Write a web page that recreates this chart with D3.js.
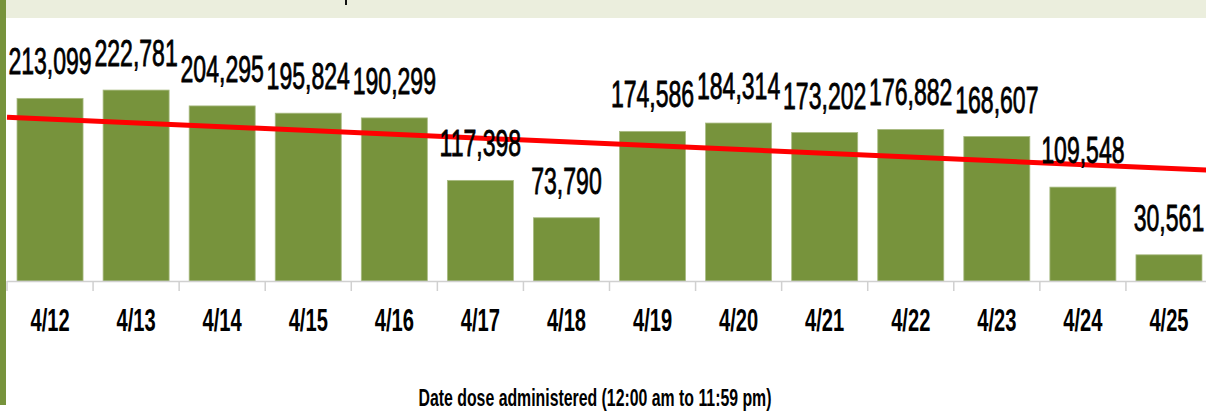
<!DOCTYPE html>
<html>
<head>
<meta charset="utf-8">
<script src="https://cdn.jsdelivr.net/npm/d3@7"></script>
<style>
  html, body { margin: 0; padding: 0; background: #fff; }
  svg { display: block; }
  text { font-family: "Liberation Sans", Arial, sans-serif; fill: #000; }
</style>
</head>
<body>
<svg id="chart"></svg>
<script>
// daily doses administered, 4/12 - 4/25
const dates = ["4/12", "4/13", "4/14", "4/15", "4/16", "4/17", "4/18",
               "4/19", "4/20", "4/21", "4/22", "4/23", "4/24", "4/25"];
const doses = [213099, 222781, 204295, 195824, 190299, 117398, 73790,
               174586, 184314, 173202, 176882, 168607, 109548, 30561];
// linear trendline, value read at first and last date
const trendEnds = [188900, 131300];
const xTitle = "Date dose administered (12:00 am to 11:59 pm)";

const width = 1206, height = 411;
const svg = d3.select("#chart").attr("width", width).attr("height", height);

const x = d3.scaleBand().domain(dates).range([7, 1212])
    .paddingInner(0.233).paddingOuter(0.1165);
const y = d3.scaleLinear().domain([0, 250000]).range([281, 66.75]);
const fmt = d3.format(",");

// cropped frame bits: top band and left accent bar
svg.append("rect").attr("x", 0).attr("y", 0).attr("width", width).attr("height", 18)
    .attr("fill", "#ebeedd");
svg.append("rect").attr("x", 345).attr("y", 0).attr("width", 2).attr("height", 5)
    .attr("fill", "#111");
svg.append("rect").attr("x", 0).attr("y", 0).attr("width", 6).attr("height", 405)
    .attr("fill", "#77933c");

// bars
svg.selectAll(".bar").data(doses).join("rect")
    .attr("class", "bar")
    .attr("x", (d, i) => x(dates[i]))
    .attr("y", d => y(d))
    .attr("width", x.bandwidth())
    .attr("height", d => y(0) - y(d))
    .attr("fill", "#77933c")
    .attr("stroke", "#a9bb83").attr("stroke-width", 0.8);

// axis line + ticks at band edges
const step = x.step();
const edges = dates.map(d => x(d) - step * x.paddingInner() / 2);
edges.push(x.range()[1]);
const axis = svg.append("g").attr("stroke", "#d0d0d0").attr("stroke-width", 1.5);
axis.append("line").attr("x1", x.range()[0]).attr("x2", x.range()[1])
    .attr("y1", y(0) + 0.5).attr("y2", y(0) + 0.5);
axis.selectAll("line.tick").data(edges).join("line")
    .attr("class", "tick")
    .attr("x1", d => d).attr("x2", d => d)
    .attr("y1", y(0)).attr("y2", y(0) + 10);

// tick labels
svg.selectAll(".xlab").data(dates).join("text")
    .attr("class", "xlab")
    .attr("transform", d => `translate(${x(d) + x.bandwidth() / 2},331) scale(0.66,1)`)
    .attr("text-anchor", "middle")
    .attr("font-size", 30.5).attr("font-weight", "bold")
    .text(d => d);

// trendline across the whole plot width
const t0 = x(dates[0]) + x.bandwidth() / 2;
const t1 = x(dates[dates.length - 1]) + x.bandwidth() / 2;
const trend = d3.scaleLinear().domain([t0, t1]).range(trendEnds);
svg.append("line")
    .attr("x1", x.range()[0]).attr("y1", y(trend(x.range()[0])))
    .attr("x2", x.range()[1]).attr("y2", y(trend(x.range()[1])))
    .attr("stroke", "#ff0000").attr("stroke-width", 5);

// data labels
svg.selectAll(".vlab").data(doses).join("text")
    .attr("class", "vlab")
    .attr("transform", (d, i) => `translate(${x(dates[i]) + x.bandwidth() / 2},${y(d) - 24}) scale(0.64,1)`)
    .attr("text-anchor", "middle")
    .attr("font-size", 36)
    .attr("stroke", "#000").attr("stroke-width", 0.8)
    .text(d => fmt(d));

// axis title
svg.append("text")
    .attr("transform", "translate(595,406) scale(0.66,1)")
    .attr("text-anchor", "middle")
    .attr("font-size", 24).attr("font-weight", "bold")
    .text(xTitle);
</script>
</body>
</html>
